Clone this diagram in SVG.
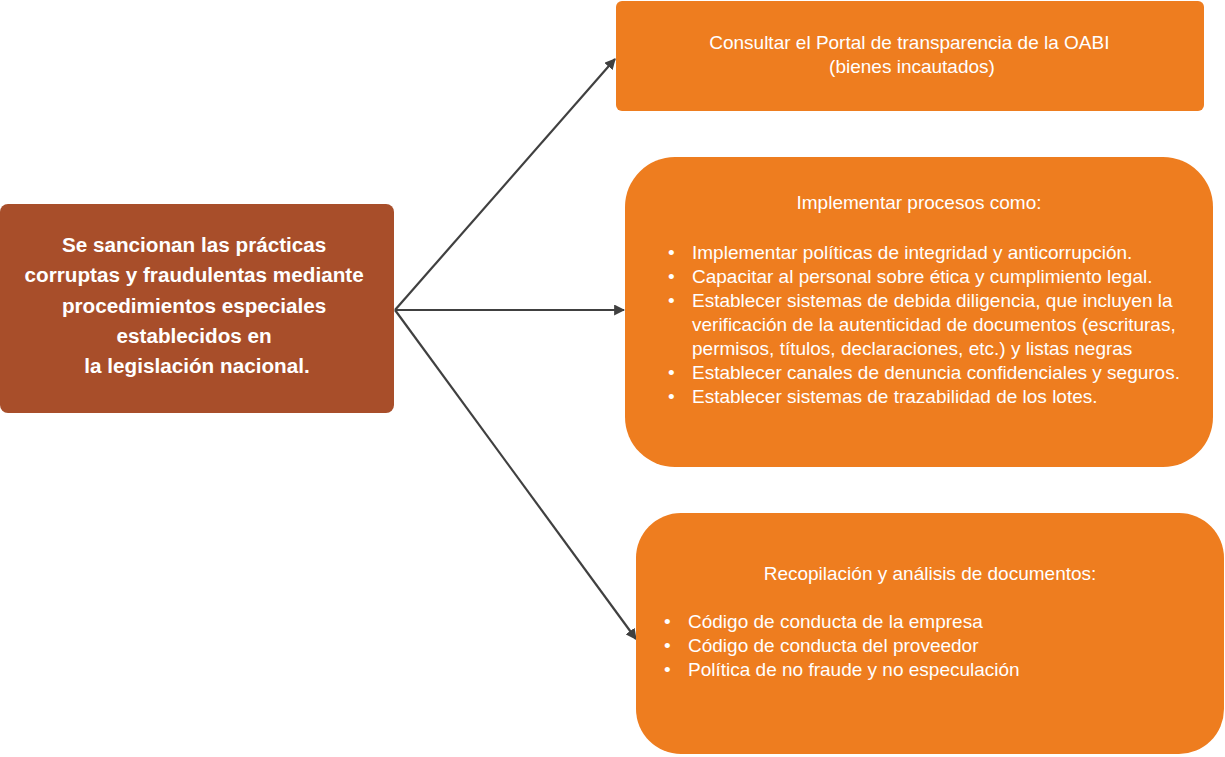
<svg xmlns="http://www.w3.org/2000/svg" width="1225" height="757" viewBox="0 0 1225 757">
<defs>
<marker id="ah" viewBox="0 0 10 10" refX="9" refY="5" markerWidth="5" markerHeight="5" orient="auto" markerUnits="strokeWidth">
<path d="M0,0 L10,5 L0,10 z" fill="#404040"/>
</marker>
<style>
.src{fill:#A84E2A}
.box{fill:#EE7D1F}
.t{font-family:"Liberation Sans",Arial,sans-serif;fill:#FFFFFF}
.b{font-size:20.7px;font-weight:bold}
.n{font-size:19px}
.conn{stroke:#404040;stroke-width:2.2;fill:none;marker-end:url(#ah)}
</style>
</defs>
<rect width="1225" height="757" fill="#FFFFFF"/>
<g id="connectors">
<line class="conn" x1="395" y1="310" x2="615" y2="59"/>
<line class="conn" x1="395" y1="310" x2="624" y2="310"/>
<line class="conn" x1="395" y1="310" x2="636" y2="639"/>
</g>
<g id="node-source">
<rect class="src" x="0" y="204" width="394" height="209" rx="8"/>
<text class="t b" text-anchor="middle">
<tspan x="197" y="252">Se sancionan las prácticas</tspan>
<tspan x="197" y="282">corruptas y fraudulentas mediante</tspan>
<tspan x="197" y="313">procedimientos especiales</tspan>
<tspan x="197" y="343">establecidos en</tspan>
<tspan x="197" y="373">la legislación nacional.</tspan>
</text>
</g>
<g id="node-portal">
<rect class="box" x="616" y="1" width="588" height="110" rx="6"/>
<text class="t n" text-anchor="middle">
<tspan x="912" y="49">Consultar el Portal de transparencia de la OABI</tspan>
<tspan x="912" y="73">(bienes incautados)</tspan>
</text>
</g>
<g id="node-procesos">
<rect class="box" x="625" y="157" width="588" height="310" rx="50"/>
<text class="t n" x="919" y="209" text-anchor="middle">Implementar procesos como:</text>
<text class="t n">
<tspan x="668" y="259">•</tspan>
<tspan x="692" y="259">Implementar políticas de integridad y anticorrupción.</tspan>
<tspan x="668" y="283">•</tspan>
<tspan x="692" y="283">Capacitar al personal sobre ética y cumplimiento legal.</tspan>
<tspan x="668" y="307">•</tspan>
<tspan x="692" y="307">Establecer sistemas de debida diligencia, que incluyen la</tspan>
<tspan x="692" y="331">verificación de la autenticidad de documentos (escrituras,</tspan>
<tspan x="692" y="355">permisos, títulos, declaraciones, etc.) y listas negras</tspan>
<tspan x="668" y="379">•</tspan>
<tspan x="692" y="379">Establecer canales de denuncia confidenciales y seguros.</tspan>
<tspan x="668" y="403">•</tspan>
<tspan x="692" y="403">Establecer sistemas de trazabilidad de los lotes.</tspan>
</text>
</g>
<g id="node-documentos">
<rect class="box" x="636" y="513" width="588" height="241" rx="45"/>
<text class="t n" x="930" y="580" text-anchor="middle">Recopilación y análisis de documentos:</text>
<text class="t n">
<tspan x="664" y="628">•</tspan>
<tspan x="688" y="628">Código de conducta de la empresa</tspan>
<tspan x="664" y="652">•</tspan>
<tspan x="688" y="652">Código de conducta del proveedor</tspan>
<tspan x="664" y="676">•</tspan>
<tspan x="688" y="676">Política de no fraude y no especulación</tspan>
</text>
</g>
</svg>
